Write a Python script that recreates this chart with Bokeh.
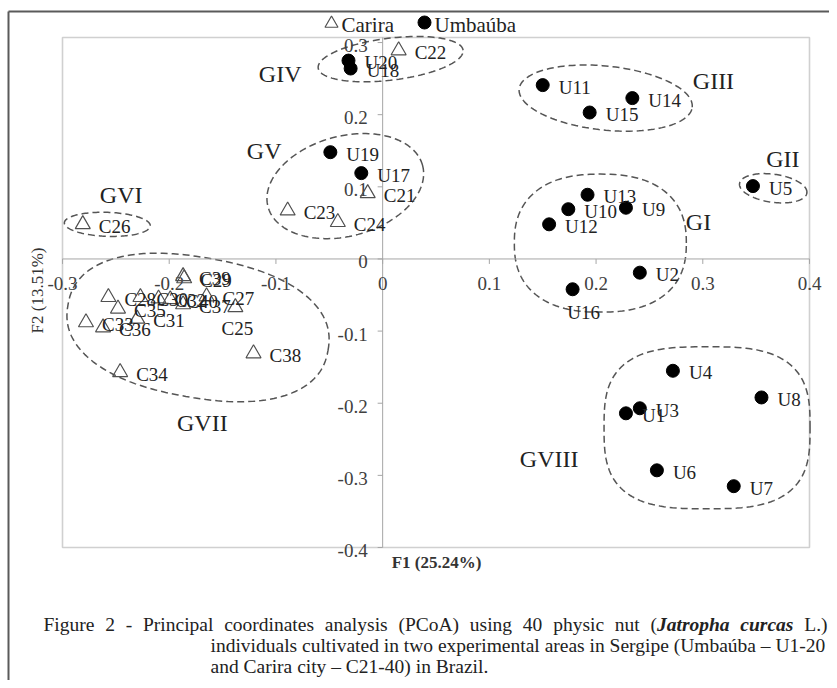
import numpy as np
from bokeh.plotting import figure
from bokeh.models import Range1d
from bokeh.core.properties import value
from bokeh.embed import file_html
from bokeh.resources import INLINE

# ---------------- data ----------------
umb_names = ["U1", "U2", "U3", "U4", "U5", "U6", "U7", "U8", "U9", "U10",
             "U11", "U12", "U13", "U14", "U15", "U16", "U17", "U18", "U19", "U20"]
umb_f1 = [0.228, 0.241, 0.241, 0.272, 0.347, 0.257, 0.329, 0.355, 0.228, 0.174,
          0.150, 0.156, 0.192, 0.234, 0.194, 0.178, -0.020, -0.030, -0.049, -0.032]
umb_f2 = [-0.214, -0.019, -0.207, -0.155, 0.101, -0.293, -0.315, -0.192, 0.071, 0.069,
          0.241, 0.048, 0.089, 0.223, 0.203, -0.042, 0.119, 0.264, 0.148, 0.275]

car_names = ["C21", "C22", "C23", "C24", "C25", "C26", "C27", "C28", "C29", "C30",
             "C31", "C32", "C33", "C34", "C35", "C36", "C37", "C38", "C39", "C40"]
car_f1 = [-0.014, 0.015, -0.089, -0.042, -0.138, -0.281, -0.165, -0.257, -0.186, -0.227,
          -0.230, -0.210, -0.278, -0.246, -0.248, -0.262, -0.187, -0.121, -0.187, -0.199]
car_f2 = [0.091, 0.289, 0.067, 0.051, -0.067, 0.048, -0.052, -0.053, -0.027, -0.053,
          -0.083, -0.055, -0.088, -0.157, -0.069, -0.095, -0.063, -0.131, -0.024, -0.056]

x_ticks = [-0.3, -0.2, -0.1, 0.0, 0.1, 0.2, 0.3, 0.4]
x_tick_labels = ["-0.3", "-0.2", "-0.1", "0", "0.1", "0.2", "0.3", "0.4"]
y_ticks = [-0.4, -0.3, -0.2, -0.1, 0.0, 0.1, 0.2, 0.3]
y_tick_labels = ["-0.4", "-0.3", "-0.2", "-0.1", "0", "0.1", "0.2", "0.3"]

group_names = ["GI", "GII", "GIII", "GIV", "GV", "GVI", "GVII", "GVIII"]
group_label_f1 = [0.296, 0.375, 0.310, -0.096, -0.111, -0.245, -0.169, 0.156]
group_label_f2 = [0.051, 0.139, 0.247, 0.257, 0.150, 0.088, -0.227, -0.277]

# group outline shapes: centre (data), half-axes (px), angle (deg), squareness
group_cx = [0.204, 0.366, 0.209, 0.0075, -0.035, -0.258, -0.173, 0.304]
group_cy = [0.022, 0.098, 0.223, 0.277, 0.101, 0.048, -0.095, -0.234]
group_a = [86, 34, 87, 73, 80, 43, 132, 103]
group_b = [69, 14, 32, 21, 50, 12, 70, 81]
group_ang = [0, -8, -6, 7, 15, -2, -10, 0]
group_n = [2.4, 2.0, 2.0, 2.0, 2.0, 2.0, 2.3, 3.0]

legend_labels = ["Carira", "Umbaúba"]
x_title = "F1 (25.24%)"
y_title = "F2 (13.51%)"

# caption: (text, style) words of the justified first line, then plain lines
caption_line1 = [("Figure", "normal"), ("2", "normal"), ("-", "normal"), ("Principal", "normal"),
                 ("coordinates", "normal"), ("analysis", "normal"), ("(PCoA)", "normal"),
                 ("using", "normal"), ("40", "normal"), ("physic", "normal"), ("nut", "normal"),
                 ("(|Jatropha", "bold italic"), ("curcas", "bold italic"), ("L.)", "normal")]
caption_line2 = "individuals cultivated in two experimental areas in Sergipe (Umbaúba – U1-20"
caption_line3 = "and Carira city – C21-40) in Brazil."

# ---------------- layout ----------------
W, H = 829, 680
L, R, T, B = 62, 20, 37, 133           # plot box inside the canvas (px)
XMIN, XMAX, YMIN, YMAX = -0.3, 0.4, -0.4, 0.307
SX = (W - L - R) / (XMAX - XMIN)
SY = (H - T - B) / (YMAX - YMIN)


def px(cx):
    return XMIN + (cx - L) / SX


def py(cy):
    return YMAX - (cy - T) / SY


p = figure(width=W, height=H, output_backend="svg", toolbar_location=None,
           x_range=Range1d(XMIN - L / SX, XMAX + R / SX),
           y_range=Range1d(YMIN - B / SY, YMAX + T / SY),
           min_border=0, border_fill_color="white", background_fill_color="white")
p.axis.visible = False
p.grid.visible = False
p.outline_line_color = None

FONT = value("Liberation Serif")

# outer frame of the figure (left and top)
p.segment(x0=[px(8), px(8)], y0=[py(11), py(11)], x1=[px(8), px(840)], y1=[py(700), py(11)],
          line_color="#5a5a5a", line_width=2)

# plot box
p.quad(left=[XMIN], right=[XMAX], bottom=[YMIN], top=[YMAX], fill_alpha=0,
       line_color="#d0d0d0", line_width=1.6)

# group outlines
xs, ys = [], []
for cx, cy, a, b, ang, n in zip(group_cx, group_cy, group_a, group_b, group_ang, group_n):
    t = np.linspace(0, 2 * np.pi, 160, endpoint=False)
    c, s = np.cos(t), np.sin(t)
    ux = a * np.sign(c) * np.abs(c) ** (2 / n)
    uy = b * np.sign(s) * np.abs(s) ** (2 / n)
    th = np.radians(ang)
    rx = ux * np.cos(th) - uy * np.sin(th)
    ry = ux * np.sin(th) + uy * np.cos(th)
    xs.append(list(cx + rx / SX))
    ys.append(list(cy + ry / SY))
p.patches(xs=xs, ys=ys, fill_alpha=0, line_color="#555555", line_width=1.5, line_dash="7 4")

# axes through the origin
p.segment(x0=[XMIN, 0], y0=[0, YMIN], x1=[XMAX, 0], y1=[0, YMAX], line_color="#a6a6a6", line_width=1)
p.segment(x0=x_ticks, y0=[0] * len(x_ticks), x1=x_ticks, y1=[-5 / SY] * len(x_ticks),
          line_color="#a6a6a6", line_width=1)
p.segment(x0=[-5 / SX] * len(y_ticks), y0=y_ticks, x1=[0] * len(y_ticks), y1=y_ticks,
          line_color="#a6a6a6", line_width=1)
p.text(x=x_ticks, y=[0] * len(x_ticks), text=x_tick_labels, text_font=FONT,
       text_font_size="19px", text_color="#404040", text_align="center",
       text_baseline="middle", y_offset=25)
p.text(x=[0] * len(y_ticks), y=y_ticks, text=y_tick_labels, text_font=FONT,
       text_font_size="19px", text_color="#404040", text_align="right",
       text_baseline="middle", x_offset=-15, y_offset=3)

# markers
p.scatter(x=car_f1, y=car_f2, marker="triangle", size=15, fill_alpha=0,
          line_color="#505050", line_width=1.2)
p.scatter(x=umb_f1, y=umb_f2, marker="circle", size=13, fill_color="black", line_color="black")

# point labels
special = {"U16": ("center", 11, 23), "C25": ("center", 2, 21)}


def add_labels(names, xv, yv):
    for nm, xx, yy in zip(names, xv, yv):
        al, dx, dy = special.get(nm, ("left", 16, 2))
        p.text(x=[xx], y=[yy], text=[nm], text_font=FONT, text_font_size="19px",
               text_color="#222222", text_align=al, text_baseline="middle",
               x_offset=dx, y_offset=dy)


add_labels(car_names, car_f1, car_f2)
add_labels(umb_names, umb_f1, umb_f2)

# group labels
p.text(x=group_label_f1, y=group_label_f2, text=group_names, text_font=FONT,
       text_font_size="24px", text_color="#222222", text_align="center", text_baseline="middle")

# legend
p.scatter(x=[px(331)], y=[py(23)], marker="triangle", size=13, fill_alpha=0,
          line_color="#505050", line_width=1.2)
p.scatter(x=[px(424)], y=[py(22)], marker="circle", size=13, fill_color="black", line_color="black")
p.text(x=[px(341), px(434)], y=[py(24), py(24)], text=legend_labels, text_font=FONT,
       text_font_size="21px", text_color="#222222", text_align="left", text_baseline="middle")

# axis titles
p.text(x=[px(436)], y=[py(562)], text=[x_title], text_font=FONT, text_font_size="17px",
       text_font_style="bold", text_color="#333333", text_align="center", text_baseline="middle")
p.text(x=[px(37)], y=[py(290)], text=[y_title], text_font=FONT, text_font_size="17px",
       text_color="#333333", text_align="center", text_baseline="middle", angle=np.pi / 2)

# caption (Times metrics, per 1000 em, used to justify the first line)
REG = {" ": 250, "(": 333, ")": 333, "-": 333, ".": 250, "A": 722, "C": 667, "F": 556, "L": 611,
       "P": 556, "a": 444, "c": 444, "d": 500, "e": 444, "g": 500, "h": 500, "i": 278, "l": 278,
       "m": 778, "n": 500, "o": 500, "p": 500, "r": 333, "s": 389, "t": 278, "u": 500, "y": 500}
BI = {"J": 500, "a": 500, "t": 278, "r": 389, "o": 500, "p": 500, "h": 556, "c": 444, "u": 556, "s": 389}
CAP_SIZE = 19.5


def wlen(txt, table):
    return sum(table.get(ch, 500) for ch in txt) * CAP_SIZE / 1000


cap = dict(text_font=FONT, text_font_size=f"{CAP_SIZE}px", text_color="#222222",
           text_baseline="alphabetic", text_align="left")
CAP_Y = [624, 645, 666]
pieces = []
for word, style in caption_line1:
    if "|" in word:
        pre, main = word.split("|")
        pieces.append([(pre, "normal"), (main, style)])
    else:
        pieces.append([(word, style)])
widths = [sum(wlen(t, BI if s != "normal" else REG) for t, s in pc) for pc in pieces]
x_start, x_end = 43, 827
gap = (x_end - x_start - sum(widths)) / (len(pieces) - 1)
xc = x_start
for pc, wd in zip(pieces, widths):
    xx = xc
    for t, s in pc:
        p.text(x=[px(xx)], y=[py(CAP_Y[0])], text=[t], text_font_style=s, **cap)
        xx += wlen(t, BI if s != "normal" else REG)
    xc += wd + gap
p.text(x=[px(210)], y=[py(CAP_Y[1])], text=[caption_line2], **cap)
p.text(x=[px(210)], y=[py(CAP_Y[2])], text=[caption_line3], **cap)

open("out.html", "w").write(file_html(p, INLINE))
